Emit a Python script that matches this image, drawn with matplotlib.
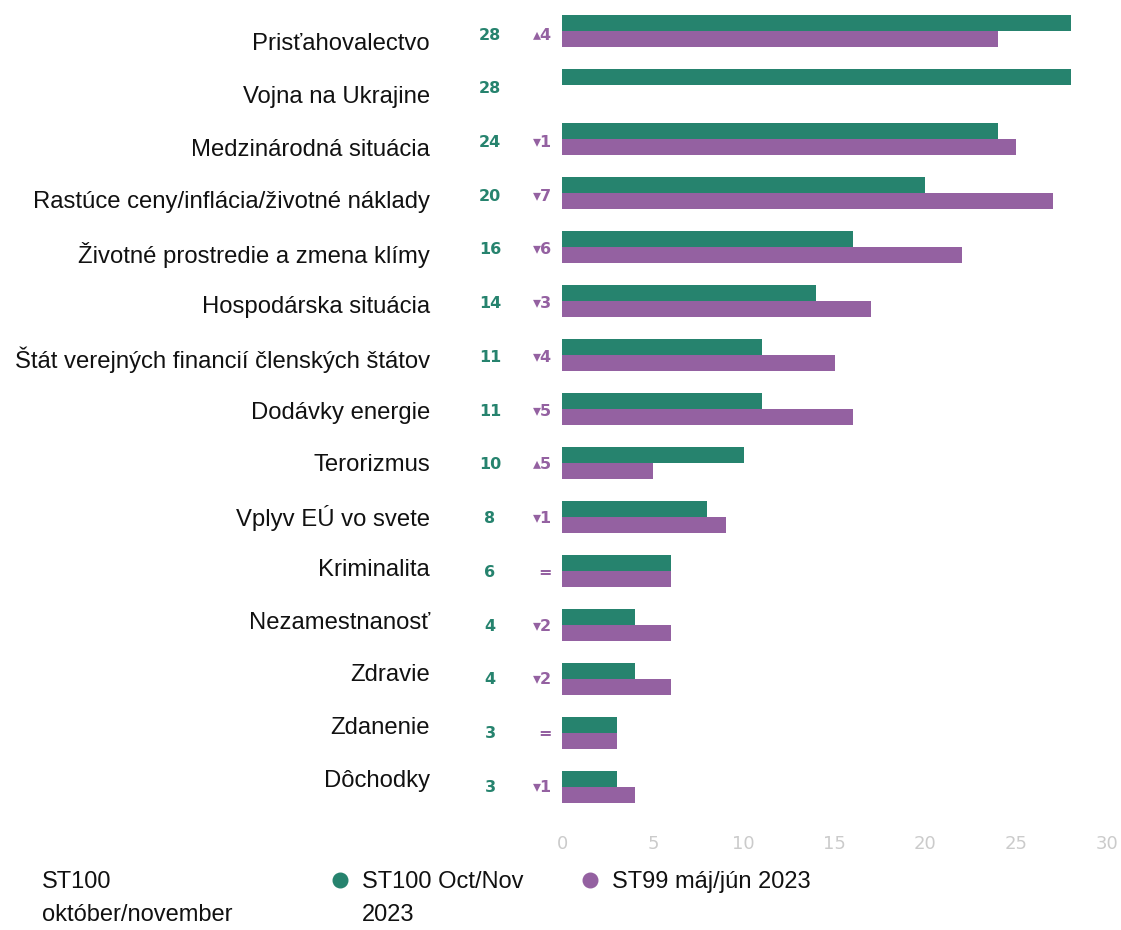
import numpy as np
import matplotlib
matplotlib.use("Agg")
import matplotlib.pyplot as plt
from matplotlib.lines import Line2D
from matplotlib.transforms import ScaledTranslation

categories = [
    "Prisťahovalectvo",
    "Vojna na Ukrajine",
    "Medzinárodná situácia",
    "Rastúce ceny/inflácia/životné náklady",
    "Životné prostredie a zmena klímy",
    "Hospodárska situácia",
    "Štát verejných financií členských štátov",
    "Dodávky energie",
    "Terorizmus",
    "Vplyv EÚ vo svete",
    "Kriminalita",
    "Nezamestnanosť",
    "Zdravie",
    "Zdanenie",
    "Dôchodky",
]
st100 = [28, 28, 24, 20, 16, 14, 11, 11, 10, 8, 6, 4, 4, 3, 3]
st99 = [24, np.nan, 25, 27, 22, 17, 15, 16, 5, 9, 6, 6, 6, 3, 4]
xticks = [0, 5, 10, 15, 20, 25, 30]

series_names = ["ST100 Oct/Nov\n2023", "ST99 máj/jún 2023"]
legend_title = "ST100\noktóber/november"

GREEN = "#26836e"
PURPLE = "#9461a1"

W, H = 1121, 930
fig = plt.figure(figsize=(W / 100, H / 100), dpi=100)
ax = fig.add_axes([562 / W, 1 - 814 / H, 545 / W, 810 / H])

y = np.arange(len(categories))
bh = 0.29
ax.barh(y - bh / 2, st100, height=bh, color=GREEN)
ax.barh(y + bh / 2, st99, height=bh, color=PURPLE)

ax.set_ylim(len(categories) - 0.5, -0.5)
ax.set_xlim(0, 30)
ax.set_yticks(y)
ax.set_yticklabels(categories, fontsize=17.2, family="Liberation Sans", color="#111111")
ax.set_xticks(xticks)
ax.set_xticklabels([str(t) for t in xticks], fontsize=13, color="#cbcbcb", family="DejaVu Sans")
ax.tick_params(axis="y", length=0, pad=95)
ax.tick_params(axis="x", length=0, pad=15)
for s in ax.spines.values():
    s.set_visible(False)

# labels in the reference drift slightly relative to the rows
n = len(categories)
for i, lab in enumerate(ax.get_yticklabels()):
    off_px = 11 - 20 * i / (n - 1)
    lab.set_transform(lab.get_transform() + ScaledTranslation(0, -off_px / 100, fig.dpi_scale_trans))

trans = ax.get_yaxis_transform()
for i, (a, b) in enumerate(zip(st100, st99)):
    dy = 0.075 - 0.07 * i / (n - 1)
    ax.text(-0.132, i + dy, f"{a}", transform=trans, ha="center", va="center",
            fontsize=11.5, fontweight="bold", color=GREEN, family="DejaVu Sans", clip_on=False)
    if np.isnan(b):
        continue
    d = a - b
    if d > 0:
        s = f"\u25b4{int(abs(d))}"
    elif d < 0:
        s = f"\u25be{int(abs(d))}"
    else:
        s = "="
    ax.text(-0.019, i + dy, s, transform=trans, ha="right", va="center",
            fontsize=11.5, fontweight="bold", color=PURPLE, family="DejaVu Sans", clip_on=False)

# legend
fig.text(42 / W, 1 - 871 / H, legend_title, ha="left", va="top", fontsize=17,
         family="Liberation Sans", color="#111111", linespacing=1.62)
for (mx, tx, col, name) in [(340, 362, GREEN, series_names[0]), (590, 612, PURPLE, series_names[1])]:
    fig.add_artist(Line2D([mx / W], [1 - 880 / H], marker="o", markersize=10.5,
                          color=col, linestyle="none", transform=fig.transFigure))
    fig.text(tx / W, 1 - 871 / H, name, ha="left", va="top", fontsize=17,
             family="Liberation Sans", color="#111111", linespacing=1.62)

fig.savefig("out.png", dpi=100)
